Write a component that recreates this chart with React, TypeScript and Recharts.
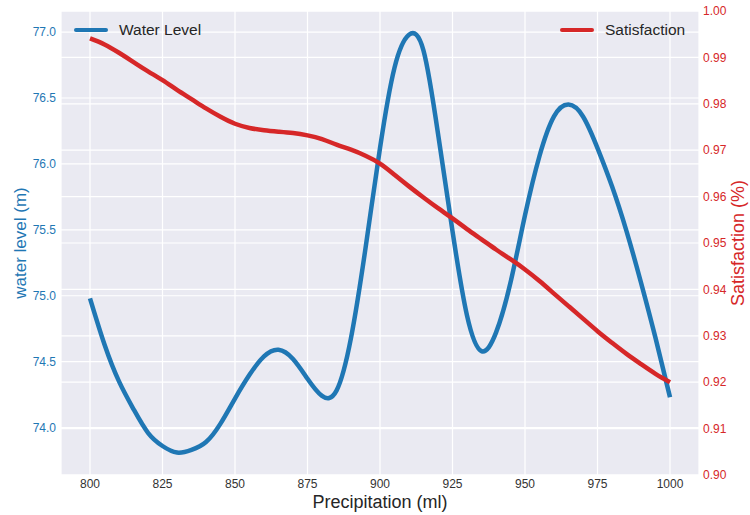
import { CartesianGrid, Line, LineChart, XAxis, YAxis } from "recharts";

const precipitation = [
  800, 805, 810, 815, 820, 825, 830, 835, 840, 845, 850, 855, 860, 865, 870, 875, 880, 885, 890, 895, 900,
  905, 910, 915, 920, 925, 930, 935, 940, 945, 950, 955, 960, 965, 970, 975, 980, 985, 990, 995, 1000,
];

const waterLevel = [
  74.98, 74.63, 74.35, 74.14, 73.96, 73.86, 73.81, 73.83, 73.89, 74.03, 74.22, 74.4, 74.54, 74.59, 74.52,
  74.37, 74.24, 74.28, 74.68, 75.36, 76.12, 76.73, 76.98, 76.86, 76.23, 75.49, 74.85, 74.58, 74.72, 75.1,
  75.61, 76.06, 76.36, 76.45, 76.36, 76.12, 75.83, 75.49, 75.1, 74.68, 74.23,
];

const satisfaction = [
  0.9941, 0.9928, 0.991, 0.989, 0.987, 0.9851, 0.983, 0.981, 0.979, 0.9772, 0.9757, 0.9748, 0.9743, 0.974,
  0.9737, 0.9732, 0.9724, 0.9712, 0.9701, 0.9688, 0.9671, 0.9647, 0.9622, 0.9598, 0.9575, 0.9553, 0.953,
  0.9508, 0.9486, 0.9465, 0.9443, 0.9418, 0.9391, 0.9364, 0.9337, 0.931, 0.9285, 0.9261, 0.9239, 0.9218,
  0.92,
];

const xTicks = [800, 825, 850, 875, 900, 925, 950, 975, 1000];
const levelTicks = [74.0, 74.5, 75.0, 75.5, 76.0, 76.5, 77.0];
const satisfactionTicks = [0.9, 0.91, 0.92, 0.93, 0.94, 0.95, 0.96, 0.97, 0.98, 0.99, 1.0];

const BLUE = "#1f77b4";
const RED = "#d62728";
const FONT = "'Liberation Sans', Arial, sans-serif";

const data = precipitation.map((p, i) => ({
  precipitation: p,
  level: waterLevel[i],
  satisfaction: satisfaction[i],
}));

function LegendItem({ left, color, text }: { left: number; color: string; text: string }) {
  return (
    <div style={{ position: "absolute", left, top: 20, display: "flex", alignItems: "center", height: 20 }}>
      <div style={{ width: 34, height: 4, borderRadius: 2, background: color }} />
      <span style={{ marginLeft: 11, fontSize: 15.5, color: "#262626", fontFamily: FONT }}>{text}</span>
    </div>
  );
}

export default function App() {
  return (
    <div style={{ position: "absolute", left: 0, top: 0, width: 750, height: 515, background: "#fff" }}>
      <LineChart
        width={750}
        height={515}
        data={data}
        margin={{ top: 11, right: 0, bottom: 0, left: 0 }}
        style={{ fontFamily: FONT }}
      >
        <CartesianGrid yAxisId="left" fill="#eaeaf2" stroke="#ffffff" strokeWidth={1.2} />
        <CartesianGrid yAxisId="right" vertical={false} stroke="#ffffff" strokeWidth={1.2} />
        <XAxis
          dataKey="precipitation"
          type="number"
          domain={[790, 1010]}
          ticks={xTicks}
          height={40}
          axisLine={false}
          tickLine={false}
          tickSize={0}
          tickMargin={4}
          tick={{ fill: "#333333", fontSize: 12 }}
        />
        <YAxis
          yAxisId="left"
          type="number"
          domain={[73.64, 77.16]}
          ticks={levelTicks}
          allowDataOverflow
          width={61}
          axisLine={false}
          tickLine={false}
          tickSize={0}
          tickMargin={5}
          tickFormatter={(v: number) => v.toFixed(1)}
          tick={{ fill: BLUE, fontSize: 12 }}
        />
        <YAxis
          yAxisId="right"
          orientation="right"
          type="number"
          domain={[0.9, 1.0]}
          ticks={satisfactionTicks}
          allowDataOverflow
          width={51}
          axisLine={false}
          tickLine={false}
          tickSize={0}
          tickMargin={4}
          tickFormatter={(v: number) => v.toFixed(2)}
          tick={{ fill: RED, fontSize: 12 }}
        />
        <Line
          yAxisId="left"
          type="natural"
          dataKey="level"
          stroke={BLUE}
          strokeWidth={4.5}
          dot={false}
          isAnimationActive={false}
        />
        <Line
          yAxisId="right"
          type="natural"
          dataKey="satisfaction"
          stroke={RED}
          strokeWidth={4.5}
          dot={false}
          isAnimationActive={false}
        />
      </LineChart>
      <svg
        width={750}
        height={515}
        style={{ position: "absolute", left: 0, top: 0, pointerEvents: "none", fontFamily: FONT }}
      >
        <text x={380} y={508} textAnchor="middle" fontSize={18} fill="#262626">
          Precipitation (ml)
        </text>
        <text x={26} y={243} textAnchor="middle" fontSize={17} fill={BLUE} transform="rotate(-90 26 243)">
          water level (m)
        </text>
        <text x={744} y={243} textAnchor="middle" fontSize={18} fill={RED} transform="rotate(-90 744 243)">
          Satisfaction (%)
        </text>
      </svg>
      <LegendItem left={74} color={BLUE} text="Water Level" />
      <LegendItem left={560} color={RED} text="Satisfaction" />
    </div>
  );
}
